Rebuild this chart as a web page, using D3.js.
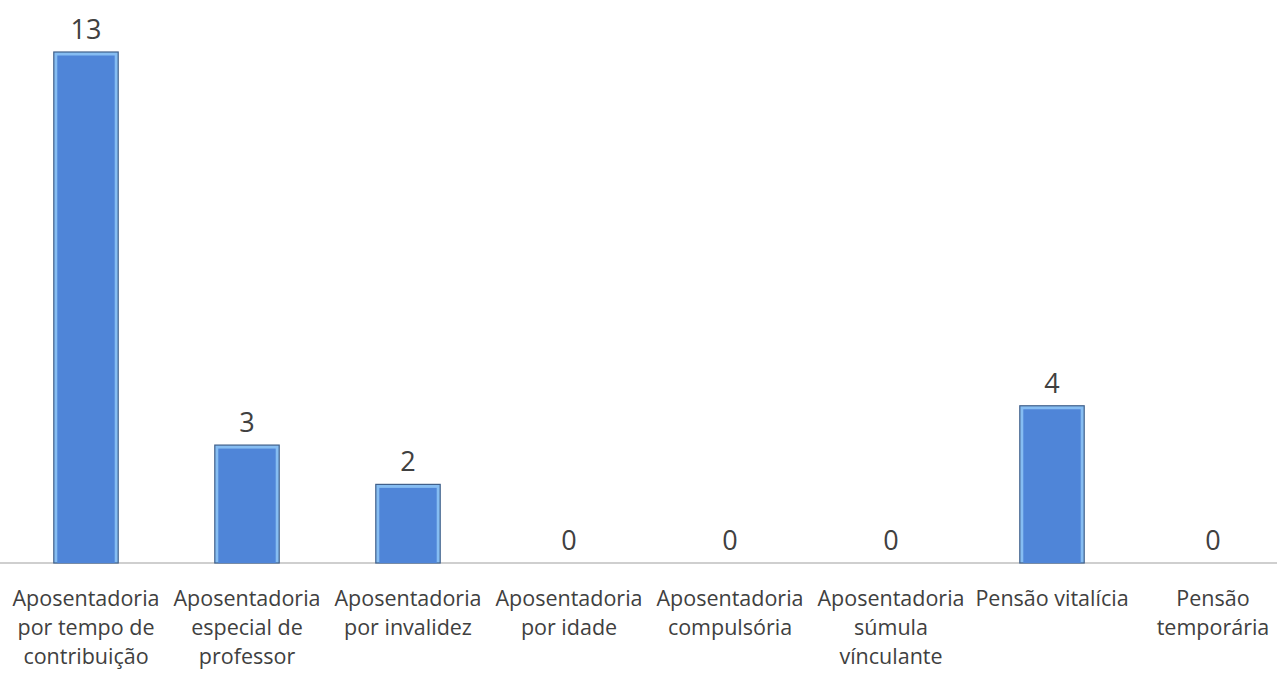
<!DOCTYPE html>
<html><head><meta charset="utf-8">
<script src="https://cdnjs.cloudflare.com/ajax/libs/d3/7.8.5/d3.min.js"></script>
<style>html,body{margin:0;padding:0;background:#fff;}svg{display:block;}</style>
</head><body>
<script>
const categories = [
  "Aposentadoria por tempo de contribuição",
  "Aposentadoria especial de professor",
  "Aposentadoria por invalidez",
  "Aposentadoria por idade",
  "Aposentadoria compulsória",
  "Aposentadoria súmula vínculante",
  "Pensão vitalícia",
  "Pensão temporária"
];
const values = [13, 3, 2, 0, 0, 0, 4, 0];

const W = 1277, H = 673;
const svg = d3.select("body").append("svg").attr("width", W).attr("height", H);
const FONT = "'Open Sans', sans-serif";
const x = d3.scaleBand().domain(categories).range([5.5, 5.5 + 161 * 8]).paddingInner(0.6).paddingOuter(0.3);
const y = d3.scaleLinear().domain([0, 13]).range([563, 52]);

// axis baseline
svg.append("line").attr("x1", 0).attr("x2", W).attr("y1", y(0)).attr("y2", y(0))
  .attr("stroke", "#bfbfbf").attr("stroke-width", 1.5);

const bars = svg.append("g").selectAll("g").data(categories).join("g");
bars.filter((d,i) => values[i] > 0).append("rect")
  .attr("x", d => x(d)).attr("width", x.bandwidth())
  .attr("y", (d) => y(values[categories.indexOf(d)]))
  .attr("height", d => y(0) - y(values[categories.indexOf(d)]))
  .attr("fill", "#86bdf2").attr("stroke", "#3f5f8a").attr("stroke-width", 1.2);
bars.filter((d,i) => values[i] > 0).append("rect")
  .attr("x", d => x(d) + 3.5).attr("width", x.bandwidth() - 7)
  .attr("y", (d) => y(values[categories.indexOf(d)]) + 3.5)
  .attr("height", d => Math.max(0, y(0) - y(values[categories.indexOf(d)]) - 3.5))
  .attr("fill", "#4f85d8");

// value labels
svg.append("g").selectAll("text").data(categories).join("text")
  .attr("x", d => x(d) + x.bandwidth() / 2)
  .attr("y", (d, i) => y(values[i]) - 13)
  .attr("text-anchor", "middle")
  .attr("font-family", FONT).attr("font-size", 27).attr("fill", "#404040")
  .text((d, i) => values[i]);

// category labels with wrapping
const maxW = 162;
const lab = svg.append("g").selectAll("text").data(categories).join("text")
  .attr("text-anchor", "middle")
  .attr("font-family", FONT).attr("font-size", 21.5).attr("fill", "#404040")
  .attr("y", 606);
lab.each(function(d) {
  const t = d3.select(this);
  const cx = x(d) + x.bandwidth() / 2;
  const words = d.split(" ");
  let lines = [], cur = [];
  const tmp = t.append("tspan");
  words.forEach(w => {
    const test = cur.concat([w]).join(" ");
    tmp.text(test);
    if (tmp.node().getComputedTextLength() > maxW && cur.length) {
      lines.push(cur.join(" ")); cur = [w];
    } else cur.push(w);
  });
  lines.push(cur.join(" "));
  tmp.remove();
  lines.forEach((l, k) => {
    t.append("tspan").attr("x", cx).attr("y", 606 + k * 29).text(l);
  });
});
</script>
</body></html>
